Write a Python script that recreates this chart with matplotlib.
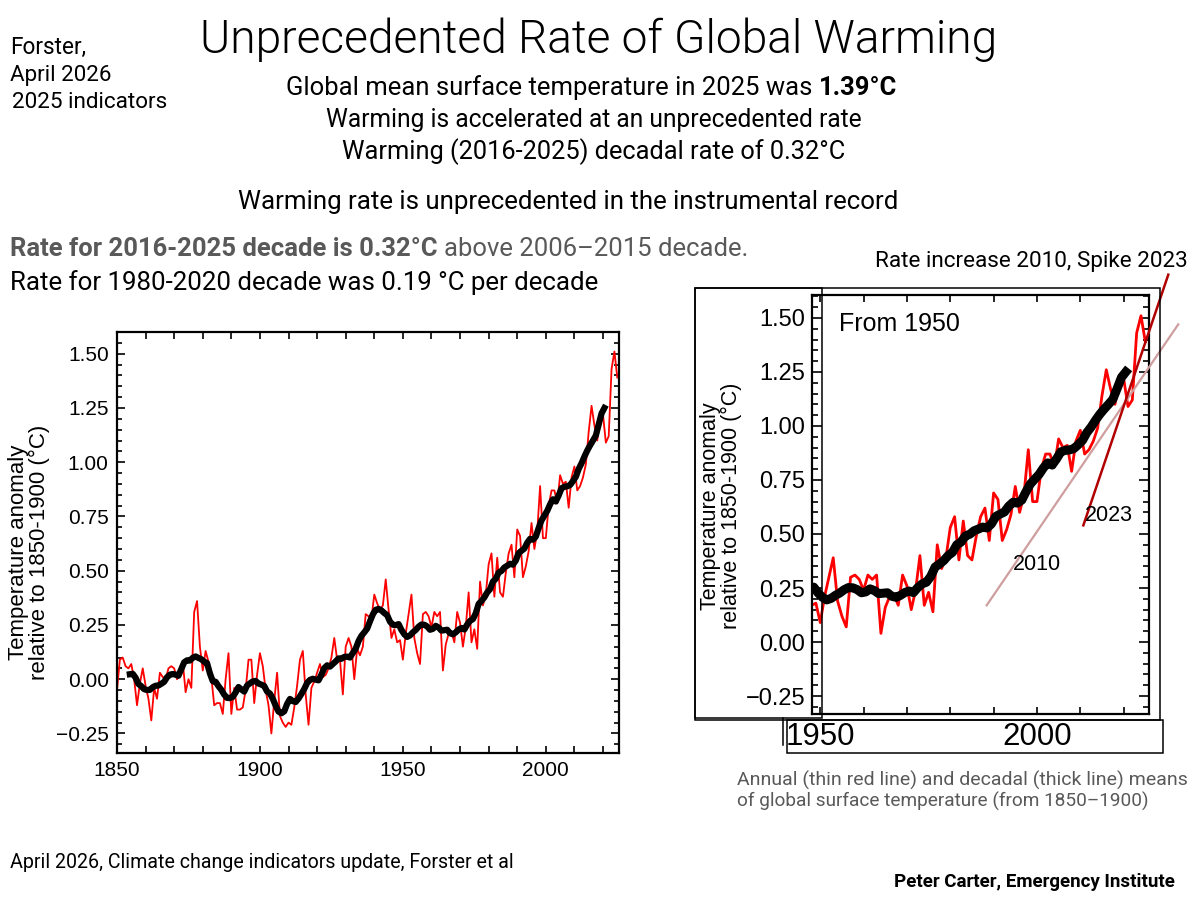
import numpy as np
import pandas as pd
import matplotlib
matplotlib.use("Agg")
import matplotlib.pyplot as plt
from matplotlib.patches import Rectangle
from matplotlib.lines import Line2D
from matplotlib.ticker import MultipleLocator, FixedLocator

# ---------------- data ----------------
years = list(range(1850, 2026))
anomaly = [
    -0.05, 0.09, 0.10, 0.06, 0.05, 0.07, 0.00, -0.12, -0.02, 0.05,   # 1850s
    -0.03, -0.09, -0.19, -0.04, -0.09, 0.03, 0.01, 0.00, 0.05, 0.06,  # 1860s
    0.05, 0.00, 0.02, 0.08, -0.06, 0.00, -0.04, 0.31, 0.36, 0.15,     # 1870s
    0.04, 0.13, 0.08, 0.01, -0.12, -0.11, -0.11, -0.16, 0.00, 0.12,   # 1880s
    -0.16, -0.04, -0.14, -0.14, -0.13, -0.05, 0.09, 0.09, -0.11, 0.02,  # 1890s
    0.12, 0.06, -0.05, -0.12, -0.25, -0.10, 0.03, -0.17, -0.20, -0.22,  # 1900s
    -0.20, -0.21, -0.13, -0.03, 0.09, 0.13, -0.07, -0.21, -0.04, -0.01,  # 1910s
    0.03, 0.07, 0.01, 0.02, 0.05, 0.10, 0.19, 0.09, 0.09, -0.07,      # 1920s
    0.15, 0.19, 0.15, 0.00, 0.14, 0.11, 0.15, 0.30, 0.29, 0.28,       # 1930s
    0.39, 0.35, 0.32, 0.34, 0.46, 0.32, 0.19, 0.23, 0.17, 0.18,       # 1940s
    0.09, 0.21, 0.30, 0.39, 0.19, 0.12, 0.07, 0.30, 0.31, 0.29,       # 1950s
    0.24, 0.31, 0.29, 0.31, 0.04, 0.16, 0.21, 0.22, 0.17, 0.31,       # 1960s
    0.26, 0.15, 0.24, 0.40, 0.17, 0.23, 0.14, 0.45, 0.34, 0.39,       # 1970s
    0.53, 0.58, 0.38, 0.56, 0.40, 0.38, 0.49, 0.58, 0.62, 0.47,       # 1980s
    0.69, 0.66, 0.47, 0.52, 0.59, 0.72, 0.60, 0.68, 0.89, 0.65,       # 1990s
    0.65, 0.80, 0.87, 0.87, 0.81, 0.94, 0.90, 0.91, 0.79, 0.93,       # 2000s
    0.98, 0.87, 0.89, 0.93, 0.99, 1.14, 1.26, 1.17, 1.10, 1.21,       # 2010s
    1.22, 1.09, 1.12, 1.43, 1.51, 1.39,                               # 2020s
]
decade_window = 10

main_xticks = [1850, 1900, 1950, 2000]
inset_xticks = [1950, 2000]
temp_ticks = [-0.25, 0.00, 0.25, 0.50, 0.75, 1.00, 1.25, 1.50]

trend_2010_years = [1988.4, 2032.6]
trend_2010_values = [0.17, 1.47]
trend_2023_years = [2010.7, 2030.3]
trend_2023_values = [0.54, 1.70]
trend_label_text = ["2010", "2023"]
trend_label_years = [2000.0, 2016.5]
trend_label_values = [0.36, 0.585]

annual = pd.Series(anomaly, index=years)
decadal = annual.rolling(decade_window).mean().dropna()
decadal_x = decadal.index.values - (decade_window - 1) / 2.0

# ---------------- figure ----------------
W, H = 1200, 900
fig = plt.figure(figsize=(12, 9), dpi=100)
fig.patch.set_facecolor("white")

TICK_FONT = ["Liberation Sans", "DejaVu Sans"]
SLIDE_FONT = ["Roboto", "DejaVu Sans"]


def fx(px):
    return px / W


def fy(py):
    return 1 - py / H


def tick_labels(vals):
    return [f"{v:.2f}".replace("-", "\u2212") for v in vals]


# ---------- main chart ----------
ax = fig.add_axes([fx(117), fy(753), (619 - 117) / W, (753 - 332) / H])
ax.plot(years, anomaly, color="#ff0000", lw=1.3, zorder=2)
ax.plot(decadal_x, decadal.values, color="black", lw=4.5, zorder=3)
ax.set_xlim(1850, 2025.6)
ax.set_ylim(-0.34, 1.60)
ax.xaxis.set_major_locator(FixedLocator(main_xticks))
ax.xaxis.set_minor_locator(MultipleLocator(10))
ax.yaxis.set_major_locator(FixedLocator(temp_ticks))
ax.yaxis.set_minor_locator(MultipleLocator(0.05))
ax.set_xticklabels([str(t) for t in main_xticks])
ax.set_yticklabels(tick_labels(temp_ticks))
for s in ax.spines.values():
    s.set_linewidth(1.6)
ax.tick_params(which="both", direction="in", top=True, right=True, width=1.2)
ax.tick_params(axis="x", which="both", length=5, pad=6)
ax.tick_params(axis="y", which="major", length=6, pad=6)
ax.tick_params(axis="y", which="minor", length=3.5)
for lab in ax.get_xticklabels() + ax.get_yticklabels():
    lab.set_fontfamily(TICK_FONT)
    lab.set_fontsize(15)
fig.text(fx(29), fy(552), "Temperature anomaly\nrelative to 1850-1900 (\u00b0C)",
         rotation=90, ha="center", va="center", multialignment="center",
         fontsize=16, family=TICK_FONT, linespacing=1.05)

# ---------- inset chart (from 1950) ----------
ax2 = fig.add_axes([fx(812), fy(714), (1149 - 812) / W, (714 - 295) / H])
ax2.plot(years, anomaly, color="#ff0000", lw=2.0, zorder=2)
ax2.plot(decadal_x, decadal.values, color="black", lw=6.5, zorder=3)
ax2.plot(trend_2010_years, trend_2010_values, color="#cf9e9e", lw=1.6,
         clip_on=False, zorder=4)
ax2.plot(trend_2023_years, trend_2023_values, color="#b00000", lw=1.8,
         clip_on=False, zorder=4)
for txt, xv, yv in zip(trend_label_text, trend_label_years, trend_label_values):
    ax2.text(xv, yv, txt, ha="center", va="center", fontsize=15.5,
             family=TICK_FONT, zorder=5)
ax2.set_xlim(1948.1, 2025.85)
ax2.set_ylim(-0.333, 1.606)
ax2.xaxis.set_major_locator(FixedLocator(inset_xticks))
ax2.xaxis.set_minor_locator(MultipleLocator(10))
ax2.yaxis.set_major_locator(FixedLocator(temp_ticks))
ax2.yaxis.set_minor_locator(MultipleLocator(0.05))
ax2.set_xticklabels([str(t) for t in inset_xticks])
ax2.set_yticklabels(tick_labels(temp_ticks))
for s in ax2.spines.values():
    s.set_linewidth(1.6)
ax2.tick_params(which="both", direction="in", top=True, right=True, width=1.2)
ax2.tick_params(axis="x", which="both", length=5, pad=6)
ax2.tick_params(axis="y", which="major", length=7, pad=5)
ax2.tick_params(axis="y", which="minor", length=4)
for lab in ax2.get_xticklabels():
    lab.set_fontfamily(TICK_FONT)
    lab.set_fontsize(22.5)
for lab in ax2.get_yticklabels():
    lab.set_fontfamily(TICK_FONT)
    lab.set_fontsize(17)
ax2.text(0.08, 0.93, "From 1950", transform=ax2.transAxes, ha="left",
         va="center", fontsize=18, family=TICK_FONT)
fig.text(fx(721), fy(506), "Temperature anomaly\nrelative to 1850-1900 (\u00b0C)",
         rotation=90, ha="center", va="center", multialignment="center",
         fontsize=15.5, family=TICK_FONT, linespacing=1.05)

# collage boxes around the inset
def box(x0, y0, x1, y1, lw=1.1):
    fig.add_artist(Rectangle((fx(x0), fy(y1)), (x1 - x0) / W, (y1 - y0) / H,
                             fill=False, ec="black", lw=lw,
                             transform=fig.transFigure, zorder=6))

box(695, 288, 822, 718)
box(695, 288, 1160, 720)
box(787, 720, 1163, 753)
fig.add_artist(Line2D([fx(783), fx(783)], [fy(718), fy(745)], color="black",
                      lw=1.1, transform=fig.transFigure))

# ---------------- slide texts ----------------
renderer = fig.canvas.get_renderer()


def fit_line(parts, y, width, left=None, center=None, right=None,
             family=SLIDE_FONT, base=20.0):
    """parts: list of (text, weight, color). Fit total width to `width` px."""
    arts = [fig.text(0, fy(y), t, fontsize=base, fontweight=w, color=c,
                     family=family, ha="left", va="center")
            for t, w, c in parts]
    gap = 0.25 * base * 100 / 72
    tot = sum(a.get_window_extent(renderer).width for a in arts) + gap * (len(arts) - 1)
    k = width / tot
    size = base * k
    for a in arts:
        a.set_fontsize(size)
    gap = 0.25 * size * 100 / 72
    widths = [a.get_window_extent(renderer).width for a in arts]
    tot = sum(widths) + gap * (len(arts) - 1)
    if left is not None:
        x0 = left
    elif center is not None:
        x0 = center - tot / 2
    else:
        x0 = right - tot
    for a, wdt in zip(arts, widths):
        a.set_x(fx(x0))
        x0 += wdt + gap
    return arts


BLACK = "black"
GREY = "#595959"

fit_line([("Forster,", "normal", BLACK)], 47, 76, left=10)
fit_line([("April 2026", "normal", BLACK)], 75, 101, left=10)
fit_line([("2025 indicators", "normal", BLACK)], 103, 155, left=12)

fit_line([("Unprecedented Rate of Global Warming", 300, BLACK)], 40, 798, center=599)
fit_line([("Global mean surface temperature in 2025 was", "normal", BLACK),
          ("1.39\u00b0C", "bold", BLACK)], 88, 610, center=592)
fit_line([("Warming is accelerated at an unprecedented rate", "normal", BLACK)],
         120, 534, center=594)
fit_line([("Warming (2016-2025) decadal rate of 0.32\u00b0C", "normal", BLACK)],
         152, 503, center=594)
fit_line([("Warming rate is unprecedented in the instrumental record", "normal", BLACK)],
         202, 660, center=568)

fit_line([("Rate for 2016-2025 decade is 0.32\u00b0C", "bold", GREY),
          ("above 2006\u20132015 decade.", "normal", GREY)], 249, 735, left=10)
fit_line([("Rate for 1980-2020 decade was 0.19 \u00b0C per decade", "normal", BLACK)],
         283, 587, left=10)

fit_line([("Rate increase 2010, Spike 2023", "normal", BLACK)], 262, 312, left=875)

fit_line([("Annual (thin red line) and decadal (thick line) means", "normal", GREY)],
         780, 448, left=737)
fit_line([("of global surface temperature (from 1850\u20131900)", "normal", GREY)],
         801, 412, left=737)

fit_line([("April 2026, Climate change indicators update, Forster et al", "normal", BLACK)],
         862, 501, left=10)
fit_line([("Peter Carter, Emergency Institute", "bold", BLACK)], 882, 280, right=1175)

fig.savefig("out.png", dpi=100, facecolor="white")
